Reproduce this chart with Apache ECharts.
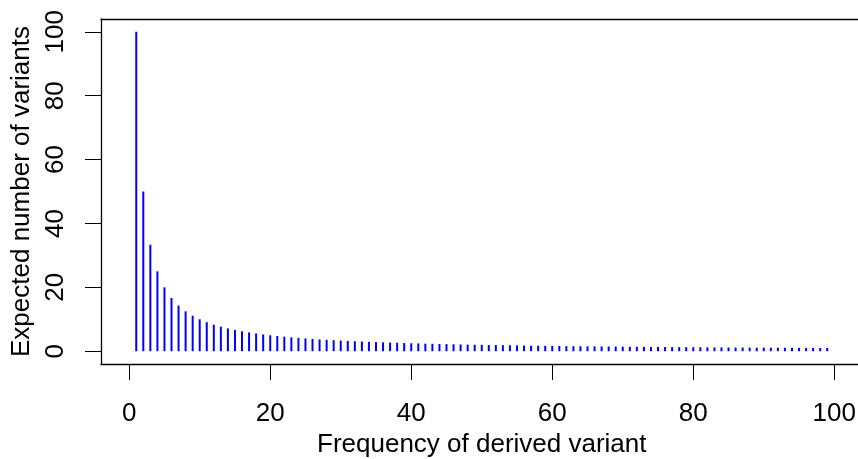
<!DOCTYPE html>
<html>
<head>
<meta charset="utf-8">
<script src="https://cdn.jsdelivr.net/npm/echarts@6.0.0/dist/echarts.min.js"></script>
<style>
html,body{margin:0;padding:0;background:#fff;overflow:hidden;}
#chart{width:858px;height:459px;}
</style>
</head>
<body>
<div id="chart"></div>
<script>
const frequencies = [1,2,3,4,5,6,7,8,9,10,11,12,13,14,15,16,17,18,19,20,21,22,23,24,25,26,27,28,29,30,31,32,33,34,35,36,37,38,39,40,41,42,43,44,45,46,47,48,49,50,51,52,53,54,55,56,57,58,59,60,61,62,63,64,65,66,67,68,69,70,71,72,73,74,75,76,77,78,79,80,81,82,83,84,85,86,87,88,89,90,91,92,93,94,95,96,97,98,99];
const expectedCounts = [100,50,33.33,25,20,16.67,14.29,12.5,11.11,10,
  9.09,8.33,7.69,7.14,6.67,6.25,5.88,5.56,5.26,5,
  4.76,4.55,4.35,4.17,4,3.85,3.7,3.57,3.45,3.33,
  3.23,3.13,3.03,2.94,2.86,2.78,2.7,2.63,2.56,2.5,
  2.44,2.38,2.33,2.27,2.22,2.17,2.13,2.08,2.04,2,
  1.96,1.92,1.89,1.85,1.82,1.79,1.75,1.72,1.69,1.67,
  1.64,1.61,1.59,1.56,1.54,1.52,1.49,1.47,1.45,1.43,
  1.41,1.39,1.37,1.35,1.33,1.32,1.3,1.28,1.27,1.25,
  1.23,1.22,1.2,1.19,1.18,1.16,1.15,1.14,1.12,1.11,
  1.1,1.09,1.08,1.06,1.05,1.04,1.03,1.02,1.01];
const xTicks = [0,20,40,60,80,100];
const yTicks = [0,20,40,60,80,100];

const FONT = "'Liberation Sans', Arial, Helvetica, sans-serif";
const chart = echarts.init(document.getElementById('chart'), null, {renderer:'canvas'});
const data = frequencies.map((f,i)=>[f, expectedCounts[i]]);
const lineStyle = {color:'#000', width:1.3};
chart.setOption({
  animation:false,
  backgroundColor:'#fff',
  grid:{left:101, top:19, width:761.5, height:345, show:false, containLabel:false, outerBoundsMode:'none'},
  xAxis:[{
    type:'value', min:-4, max:104, position:'bottom',
    name:'Frequency of derived variant', nameLocation:'middle', nameGap:68,
    nameTextStyle:{fontFamily:FONT, fontSize:26, color:'#000'},
    axisLine:{show:true, onZero:false, lineStyle:lineStyle},
    axisTick:{show:true, inside:false, length:16, lineStyle:{color:'#000', width:1}, customValues:xTicks},
    axisLabel:{fontFamily:FONT, fontSize:26, color:'#000', margin:37, customValues:xTicks},
    splitLine:{show:false}
  },{
    type:'value', min:-4, max:104, position:'top',
    axisLine:{show:true, onZero:false, lineStyle:lineStyle},
    axisTick:{show:false}, axisLabel:{show:false}, splitLine:{show:false}
  }],
  yAxis:{
    type:'value', min:-4, max:104,
    name:'Expected number of variants', nameLocation:'middle', nameGap:56, nameRotate:90,
    nameTextStyle:{fontFamily:FONT, fontSize:26, color:'#000'},
    axisLine:{show:true, onZero:false, lineStyle:lineStyle},
    axisTick:{show:true, inside:false, length:16, lineStyle:{color:'#000', width:1}, customValues:yTicks},
    axisLabel:{fontFamily:FONT, fontSize:26, color:'#000', margin:32, rotate:90, customValues:yTicks},
    splitLine:{show:false}
  },
  series:[{
    type:'bar', data:data, barWidth:2, xAxisIndex:0,
    itemStyle:{color:'#0000ff'},
    silent:true
  }]
});
</script>
</body>
</html>
